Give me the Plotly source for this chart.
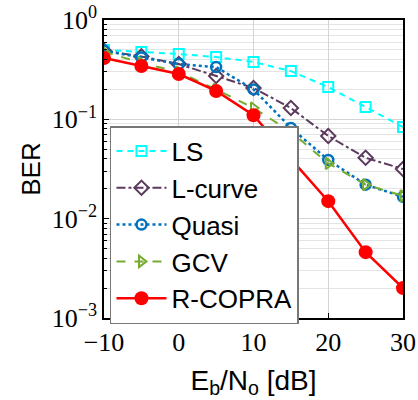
import plotly.graph_objects as go

snr = [-10, -5, 0, 5, 10, 15, 20, 25, 30]
ber_ls = [0.50, 0.476, 0.455, 0.424, 0.378, 0.306, 0.211, 0.133, 0.0836]
ber_lcurve = [0.49, 0.43, 0.36, 0.273, 0.207, 0.13, 0.068, 0.041, 0.0316]
ber_quasi = [0.49, 0.42, 0.36, 0.336, 0.20, 0.082, 0.039, 0.022, 0.0166]
ber_gcv = [0.48, 0.37, 0.30, 0.20, 0.13, 0.075, 0.036, 0.022, 0.017]
ber_rcopra = [0.414, 0.344, 0.286, 0.193, 0.11, 0.04, 0.015, 0.0046, 0.002]

x_ticks = [-10, 0, 10, 20, 30]
x_ticktext = ["\u221210", "0", "10", "20", "30"]
y_ticks = [1e-3, 1e-2, 1e-1, 1]
y_ticktext = ["10<sup>\u22123</sup>", "10<sup>\u22122</sup>", "10<sup>\u22121</sup>", "10<sup>0</sup>"]
minor_y = [m * 10.0 ** e for e in (-3, -2, -1) for m in range(2, 10)]

fig = go.Figure()
fig.add_trace(go.Scatter(x=snr, y=ber_ls, name="LS", mode="lines+markers",
                         line=dict(color="#00FFFF", width=2, dash="6px,5px"),
                         marker=dict(symbol="square-open", size=10, line=dict(width=2, color="#00FFFF"))))
fig.add_trace(go.Scatter(x=snr, y=ber_lcurve, name="L-curve", mode="lines+markers",
                         line=dict(color="#5B3A5E", width=2, dash="dashdot"),
                         marker=dict(symbol="diamond-open", size=11, line=dict(width=2, color="#5B3A5E"))))
fig.add_trace(go.Scatter(x=snr, y=ber_quasi, name="Quasi", mode="lines+markers",
                         line=dict(color="#0072BD", width=2.5, dash="dot"),
                         marker=dict(symbol="circle-open", size=10, line=dict(width=2.5, color="#0072BD"))))
fig.add_trace(go.Scatter(x=snr, y=ber_gcv, name="GCV", mode="lines+markers",
                         line=dict(color="#77AC30", width=2, dash="dash"),
                         marker=dict(symbol="triangle-right-open", size=10, line=dict(width=2, color="#77AC30"))))
fig.add_trace(go.Scatter(x=snr, y=ber_rcopra, name="R-COPRA", mode="lines+markers",
                         line=dict(color="#FF0000", width=2.5),
                         marker=dict(symbol="circle", size=14, color="#FF0000")))

fig.update_layout(
    width=418, height=400,
    margin=dict(l=104, r=15, t=20, b=82),
    plot_bgcolor="white", paper_bgcolor="white",
    font=dict(family="Liberation Sans", size=24, color="black"),
    legend=dict(x=0.02, y=0.644, xanchor="left", yanchor="top",
                bgcolor="white", bordercolor="#777777", borderwidth=1.5,
                font=dict(family="Liberation Sans", size=26),
                tracegroupgap=0, itemwidth=50),
    showlegend=True,
)
fig.update_xaxes(range=[-10, 30], tickvals=x_ticks, ticktext=x_ticktext, automargin=False,
                 showgrid=True, gridcolor="#d4d4d4", gridwidth=1,
                 showline=True, linecolor="black", linewidth=1.5, mirror=True,
                 ticks="inside", ticklen=5, tickcolor="black",
                 tickfont=dict(family="Liberation Serif", size=26),
                 title=dict(text="E<sub>b</sub>/N<sub>o</sub> [dB]", font=dict(family="Liberation Sans", size=28), standoff=14),
                 zeroline=False)
fig.update_yaxes(type="log", range=[-3, 0], tickvals=y_ticks, ticktext=y_ticktext, automargin=False,
                 showgrid=True, gridcolor="#d4d4d4", gridwidth=1,
                 minor=dict(tickvals=minor_y, showgrid=True, gridcolor="#e4e4e4", ticks="inside", ticklen=3, tickcolor="black"),
                 showline=True, linecolor="black", linewidth=1.5, mirror=True,
                 ticks="inside", ticklen=5, tickcolor="black",
                 tickfont=dict(family="Liberation Serif", size=26),
                 title=dict(text="BER", font=dict(family="Liberation Sans", size=26), standoff=4),
                 zeroline=False)

fig.write_html("out.html")
